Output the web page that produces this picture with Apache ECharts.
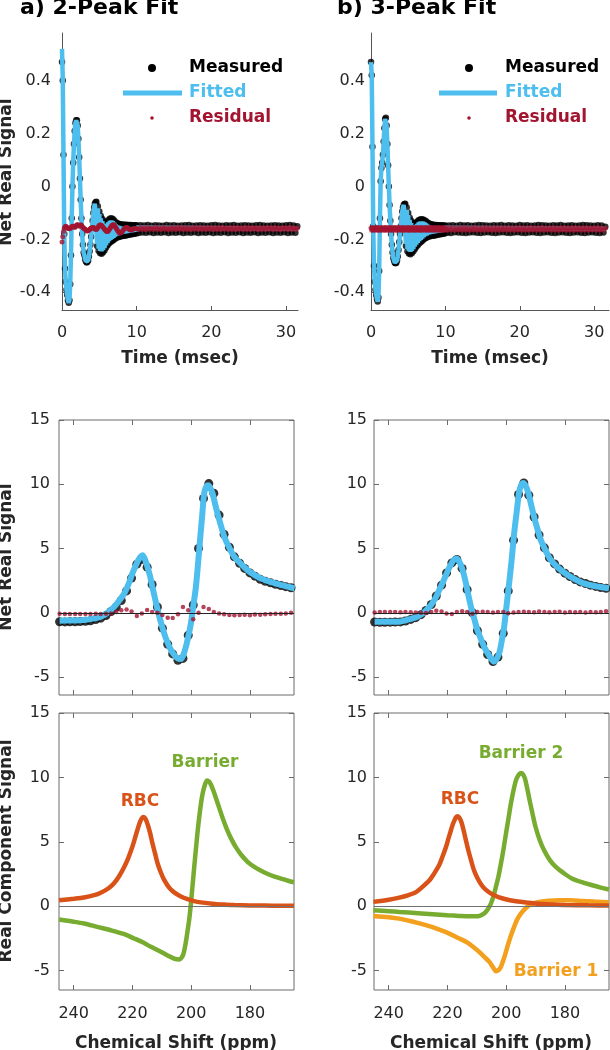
<!DOCTYPE html>
<html>
<head>
<meta charset="utf-8">
<script src="https://cdn.jsdelivr.net/npm/echarts@6.0.0/dist/echarts.min.js"></script>
<style>
  html, body { margin: 0; padding: 0; background: #fff; }
  #chart { width: 610px; height: 1050px; }
</style>
</head>
<body>
<div id="chart"></div>
<script>
// ---------- time domain (msec) ----------
const fidTime = [
  0, 0.1, 0.2, 0.3, 0.4, 0.5, 0.6, 0.7, 0.8, 0.9,
  1, 1.1, 1.2, 1.3, 1.4, 1.5, 1.6, 1.7, 1.8, 1.9,
  2, 2.1, 2.2, 2.3, 2.4, 2.5, 2.6, 2.7, 2.8, 2.9,
  3, 3.1, 3.2, 3.3, 3.4, 3.5, 3.6, 3.7, 3.8, 3.9,
  4, 4.1, 4.2, 4.3, 4.4, 4.5, 4.6, 4.7, 4.8, 4.9,
  5, 5.1, 5.2, 5.3, 5.4, 5.5, 5.6, 5.7, 5.8, 5.9,
  6, 6.1, 6.2, 6.3, 6.4, 6.5, 6.6, 6.7, 6.8, 6.9,
  7, 7.1, 7.2, 7.3, 7.4, 7.5, 7.6, 7.7, 7.8, 7.9,
  8, 8.1, 8.2, 8.3, 8.4, 8.5, 8.6, 8.7, 8.8, 8.9,
  9, 9.1, 9.2, 9.3, 9.4, 9.5, 9.6, 9.7, 9.8, 9.9,
  10,
  10.25, 10.5, 10.75, 11, 11.25, 11.5, 11.75, 12, 12.25, 12.5,
  12.75, 13, 13.25, 13.5, 13.75, 14, 14.25, 14.5, 14.75, 15,
  15.25, 15.5, 15.75, 16, 16.25, 16.5, 16.75, 17, 17.25, 17.5,
  17.75, 18, 18.25, 18.5, 18.75, 19, 19.25, 19.5, 19.75, 20,
  20.25, 20.5, 20.75, 21, 21.25, 21.5, 21.75, 22, 22.25, 22.5,
  22.75, 23, 23.25, 23.5, 23.75, 24, 24.25, 24.5, 24.75, 25,
  25.25, 25.5, 25.75, 26, 26.25, 26.5, 26.75, 27, 27.25, 27.5,
  27.75, 28, 28.25, 28.5, 28.75, 29, 29.25, 29.5, 29.75, 30,
  30.25, 30.5, 30.75, 31, 31.25, 31.5
];
// fitted curve is sampled on the first 101 times plus one end point
const fitEndTime = 31.5;

// a) 2-peak fit
const fidMeasA = [
  0.47, 0.40, 0.12, -0.18, -0.31, -0.36, -0.39, -0.41, -0.43, -0.44,
  -0.43, -0.37, -0.26, -0.12, 0.00, 0.09, 0.16, 0.21, 0.24, 0.25,
  0.25, 0.23, 0.18, 0.11, 0.03, -0.05, -0.12, -0.18, -0.22, -0.25,
  -0.26, -0.275, -0.283, -0.287, -0.285, -0.28, -0.265, -0.245, -0.22, -0.19,
  -0.16, -0.13, -0.10, -0.08, -0.065, -0.06, -0.058,
  -0.225, -0.075, -0.243, -0.095, -0.252, -0.112, -0.254, -0.123, -0.249, -0.132,
  -0.241, -0.136, -0.231, -0.134, -0.222, -0.128, -0.215, -0.122, -0.21, -0.12,
  -0.206, -0.123, -0.202, -0.129, -0.198, -0.135, -0.194, -0.139, -0.192, -0.141,
  -0.19, -0.143, -0.188, -0.144, -0.187, -0.145, -0.186, -0.145, -0.185, -0.145,
  -0.184, -0.146, -0.183, -0.146, -0.182, -0.146, -0.181, -0.147, -0.18, -0.147,
  -0.179, -0.147, -0.178, -0.147,
  -0.176, -0.147, -0.174, -0.148, -0.175, -0.146, -0.173, -0.149, -0.176, -0.147,
  -0.174, -0.148, -0.175, -0.149, -0.173, -0.146, -0.176, -0.148, -0.174, -0.147,
  -0.175, -0.149, -0.173, -0.148, -0.176, -0.147, -0.174, -0.146, -0.175, -0.149,
  -0.173, -0.148, -0.176, -0.147, -0.174, -0.148, -0.175, -0.149, -0.173, -0.147,
  -0.176, -0.146, -0.174, -0.148, -0.175, -0.149, -0.173, -0.147, -0.176, -0.148,
  -0.174, -0.146, -0.175, -0.149, -0.173, -0.148, -0.176, -0.147, -0.174, -0.148,
  -0.175, -0.149, -0.173, -0.147, -0.176, -0.146, -0.174, -0.148, -0.175, -0.149,
  -0.173, -0.148, -0.176, -0.147, -0.174, -0.148, -0.175, -0.149, -0.173, -0.147,
  -0.176, -0.146, -0.174, -0.148, -0.175, -0.15
];
const fidFitA = [
  0.52, 0.41, 0.12, -0.18, -0.31, -0.36, -0.39, -0.41, -0.43, -0.44,
  -0.43, -0.37, -0.26, -0.12, 0.00, 0.09, 0.16, 0.21, 0.24, 0.25,
  0.25, 0.23, 0.18, 0.11, 0.03, -0.05, -0.12, -0.18, -0.22, -0.25,
  -0.26, -0.275, -0.283, -0.287, -0.285, -0.28, -0.265, -0.245, -0.22, -0.19,
  -0.16, -0.13, -0.10, -0.08, -0.065, -0.06, -0.058,
  -0.217, -0.083, -0.235, -0.103, -0.244, -0.12, -0.246, -0.131, -0.241, -0.14,
  -0.233, -0.144, -0.223, -0.142, -0.214, -0.136, -0.207, -0.13, -0.202, -0.128,
  -0.198, -0.131, -0.194, -0.137, -0.19, -0.143, -0.186, -0.147, -0.184, -0.149,
  -0.182, -0.151, -0.18, -0.152, -0.179, -0.153, -0.178, -0.153, -0.177, -0.153,
  -0.176, -0.154, -0.175, -0.154, -0.174, -0.154, -0.173, -0.155, -0.172, -0.155,
  -0.171, -0.155, -0.17, -0.155,
  -0.16
];
const fidResA = [
  -0.21, -0.19, -0.17, -0.158, -0.152, -0.15, -0.152, -0.156, -0.158, -0.16,
  -0.16, -0.158, -0.155, -0.152, -0.15, -0.15, -0.152, -0.155, -0.152, -0.148,
  -0.145, -0.145, -0.147, -0.15, -0.148, -0.145, -0.147, -0.15, -0.155, -0.158,
  -0.16, -0.162, -0.165, -0.167, -0.168, -0.167, -0.165, -0.163, -0.16, -0.158,
  -0.156, -0.155, -0.155, -0.157, -0.16, -0.162, -0.163, -0.16, -0.155, -0.15,
  -0.147, -0.146, -0.146, -0.148, -0.15, -0.154, -0.158, -0.162, -0.165, -0.168,
  -0.17, -0.17, -0.168, -0.164, -0.16, -0.155, -0.15, -0.147, -0.145, -0.145,
  -0.147, -0.151, -0.155, -0.16, -0.165, -0.169, -0.173, -0.175, -0.176, -0.175,
  -0.172, -0.169, -0.165, -0.161, -0.158, -0.156, -0.155, -0.155, -0.157, -0.16,
  -0.162, -0.164, -0.165, -0.165, -0.163, -0.161, -0.16, -0.159, -0.158, -0.159,
  -0.16,
  -0.163, -0.155, -0.162, -0.156, -0.164, -0.155, -0.161, -0.157, -0.163, -0.154,
  -0.162, -0.156, -0.163, -0.155, -0.161, -0.157, -0.164, -0.155, -0.162, -0.156,
  -0.163, -0.154, -0.161, -0.156, -0.163, -0.155, -0.162, -0.157, -0.164, -0.155,
  -0.161, -0.156, -0.163, -0.154, -0.162, -0.157, -0.163, -0.155, -0.161, -0.156,
  -0.164, -0.155, -0.162, -0.156, -0.163, -0.154, -0.161, -0.157, -0.163, -0.155,
  -0.162, -0.156, -0.164, -0.155, -0.161, -0.157, -0.163, -0.154, -0.162, -0.156,
  -0.163, -0.155, -0.161, -0.156, -0.164, -0.155, -0.162, -0.157, -0.163, -0.154,
  -0.161, -0.156, -0.163, -0.155, -0.162, -0.157, -0.164, -0.155, -0.161, -0.156,
  -0.163, -0.154, -0.162, -0.156, -0.163, -0.158
];

// b) 3-peak fit
const fidMeasB = [
  0.47, 0.42, 0.15, -0.15, -0.30, -0.36, -0.39, -0.41, -0.425, -0.435,
  -0.42, -0.32, -0.12, 0.02, 0.07, 0.09, 0.12, 0.17, 0.22, 0.255,
  0.26, 0.23, 0.16, 0.08, 0.00, -0.07, -0.13, -0.18, -0.22, -0.25,
  -0.27, -0.28, -0.288, -0.29, -0.288, -0.28, -0.265, -0.24, -0.21, -0.18,
  -0.15, -0.12, -0.095, -0.08, -0.07, -0.066, -0.065,
  -0.225, -0.08, -0.245, -0.10, -0.253, -0.118, -0.256, -0.13, -0.252, -0.138,
  -0.245, -0.14, -0.236, -0.138, -0.228, -0.133, -0.221, -0.128, -0.215, -0.125,
  -0.21, -0.124, -0.205, -0.125, -0.2, -0.128, -0.196, -0.132, -0.193, -0.136,
  -0.19, -0.14, -0.188, -0.142, -0.187, -0.144, -0.186, -0.145, -0.185, -0.146,
  -0.184, -0.146, -0.183, -0.147, -0.182, -0.147, -0.181, -0.147, -0.18, -0.148,
  -0.179, -0.148, -0.178, -0.148,
  -0.175, -0.148, -0.176, -0.147, -0.173, -0.149, -0.174, -0.146, -0.175, -0.148,
  -0.176, -0.147, -0.174, -0.149, -0.173, -0.148, -0.175, -0.146, -0.176, -0.147,
  -0.174, -0.148, -0.173, -0.149, -0.175, -0.147, -0.176, -0.148, -0.174, -0.146,
  -0.173, -0.149, -0.175, -0.147, -0.176, -0.148, -0.174, -0.149, -0.173, -0.146,
  -0.175, -0.148, -0.176, -0.147, -0.174, -0.149, -0.173, -0.148, -0.175, -0.146,
  -0.176, -0.147, -0.174, -0.148, -0.173, -0.149, -0.175, -0.147, -0.176, -0.148,
  -0.174, -0.146, -0.173, -0.149, -0.175, -0.148, -0.176, -0.147, -0.174, -0.149,
  -0.173, -0.148, -0.175, -0.146, -0.176, -0.147, -0.174, -0.148, -0.173, -0.149,
  -0.175, -0.147, -0.176, -0.148, -0.174, -0.152
];
const fidFitB = [
  0.47, 0.42, 0.15, -0.15, -0.30, -0.36, -0.39, -0.41, -0.425, -0.435,
  -0.42, -0.32, -0.12, 0.02, 0.07, 0.09, 0.12, 0.17, 0.22, 0.255,
  0.26, 0.23, 0.16, 0.08, 0.00, -0.07, -0.13, -0.18, -0.22, -0.25,
  -0.27, -0.28, -0.288, -0.29, -0.288, -0.28, -0.265, -0.24, -0.21, -0.18,
  -0.15, -0.12, -0.095, -0.08, -0.07, -0.066, -0.065,
  -0.217, -0.088, -0.237, -0.108, -0.245, -0.126, -0.248, -0.138, -0.244, -0.146,
  -0.237, -0.148, -0.228, -0.146, -0.22, -0.141, -0.213, -0.136, -0.207, -0.133,
  -0.202, -0.132, -0.197, -0.133, -0.192, -0.136, -0.188, -0.14, -0.185, -0.144,
  -0.182, -0.148, -0.18, -0.15, -0.179, -0.152, -0.178, -0.153, -0.177, -0.154,
  -0.176, -0.154, -0.175, -0.155, -0.174, -0.155, -0.173, -0.155, -0.172, -0.156,
  -0.171, -0.156, -0.17, -0.156,
  -0.16
];
const fidResB = [
  -0.157, -0.166, -0.155, -0.165, -0.157, -0.166, -0.156, -0.164, -0.155, -0.166,
  -0.156, -0.165, -0.157, -0.166, -0.155, -0.164, -0.157, -0.166, -0.156, -0.165,
  -0.155, -0.166, -0.157, -0.164, -0.156, -0.166, -0.155, -0.165, -0.157, -0.166,
  -0.156, -0.164, -0.155, -0.166, -0.157, -0.165, -0.156, -0.166, -0.155, -0.164,
  -0.157, -0.166, -0.156, -0.165, -0.155, -0.166, -0.157, -0.164, -0.156, -0.166,
  -0.155, -0.165, -0.157, -0.166, -0.156, -0.164, -0.155, -0.166, -0.157, -0.165,
  -0.156, -0.166, -0.155, -0.164, -0.157, -0.166, -0.156, -0.165, -0.155, -0.166,
  -0.157, -0.164, -0.156, -0.166, -0.155, -0.165, -0.157, -0.166, -0.156, -0.164,
  -0.155, -0.166, -0.157, -0.165, -0.156, -0.166, -0.155, -0.164, -0.157, -0.166,
  -0.156, -0.165, -0.155, -0.166, -0.157, -0.164, -0.156, -0.166, -0.155, -0.165,
  -0.157,
  -0.166, -0.156, -0.165, -0.155, -0.166, -0.157, -0.164, -0.156, -0.166, -0.155,
  -0.165, -0.157, -0.166, -0.156, -0.164, -0.155, -0.166, -0.157, -0.165, -0.156,
  -0.166, -0.155, -0.164, -0.157, -0.166, -0.156, -0.165, -0.155, -0.166, -0.157,
  -0.164, -0.156, -0.166, -0.155, -0.165, -0.157, -0.166, -0.156, -0.164, -0.155,
  -0.166, -0.157, -0.165, -0.156, -0.166, -0.155, -0.164, -0.157, -0.166, -0.156,
  -0.165, -0.155, -0.166, -0.157, -0.164, -0.156, -0.166, -0.155, -0.165, -0.157,
  -0.166, -0.156, -0.164, -0.155, -0.166, -0.157, -0.165, -0.156, -0.166, -0.155,
  -0.164, -0.157, -0.166, -0.156, -0.165, -0.155, -0.166, -0.157, -0.164, -0.156,
  -0.166, -0.155, -0.165, -0.157, -0.166, -0.158
];

// ---------- spectra (ppm), middle panels ----------
const ppmGrid = [
  244.8, 243.0, 241.3, 239.5, 237.8, 236.0, 234.3, 232.5, 230.8, 229.0,
  227.3, 225.5, 223.8, 222.0, 220.3, 218.5, 216.8, 215.0, 213.3, 211.5,
  209.8, 208.0, 206.3, 204.5, 202.8, 201.0, 199.3, 197.5, 195.8, 194.0,
  192.3, 190.5, 188.8, 187.0, 185.3, 183.5, 181.8, 180.0, 178.3, 176.5,
  174.8, 173.0, 171.3, 169.5, 167.8, 166.0
];
const specMeasA = [
  -0.70, -0.71, -0.70, -0.70, -0.69, -0.67, -0.62, -0.53, -0.42, -0.22,
  0.10, 0.45, 0.95, 1.70, 2.70, 3.78, 4.15, 3.55, 2.20, 0.45,
  -1.20, -2.45, -3.20, -3.70, -3.55, -1.75, 0.60, 5.00, 8.90, 10.05,
  9.30, 7.60, 6.10, 5.10, 4.35, 3.85, 3.45, 3.10, 2.85, 2.60,
  2.45, 2.33, 2.22, 2.12, 2.03, 1.95
];
const specResA = [
  -0.08, -0.10, -0.10, -0.10, -0.10, -0.10, -0.10, -0.08, -0.10, -0.08,
  -0.05, 0.05, 0.20, 0.25, 0.10, -0.25, -0.05, 0.22, 0.05, 0.00,
  -0.18, -0.38, -0.40, -0.12, 0.45, 0.20, -0.50, 0.00, 0.45, 0.30,
  0.05, -0.05, -0.12, -0.18, -0.20, -0.18, -0.15, -0.20, -0.13, -0.15,
  -0.12, -0.10, -0.08, -0.08, -0.05, 0.00
];
const specMeasB = [
  -0.72, -0.74, -0.74, -0.73, -0.72, -0.71, -0.64, -0.52, -0.38, -0.15,
  0.18, 0.64, 1.30, 2.15, 3.10, 3.88, 4.15, 3.45, 1.80, 0.00,
  -1.40, -2.45, -3.25, -3.80, -3.45, -1.60, 1.70, 5.65, 9.20, 10.10,
  9.15, 7.45, 6.05, 5.05, 4.28, 3.80, 3.40, 3.08, 2.82, 2.58,
  2.40, 2.28, 2.15, 2.05, 1.96, 1.90
];
const specResB = [
  0.02, 0.05, 0.05, 0.05, 0.05, 0.03, 0.05, 0.03, 0.02, 0.00,
  -0.02, 0.05, 0.15, 0.10, -0.05, -0.10, 0.05, 0.12, 0.05, -0.08,
  0.05, 0.08, 0.05, 0.02, 0.05, 0.05, -0.03, 0.02, 0.05, 0.08,
  0.05, 0.03, 0.10, 0.05, 0.03, 0.05, 0.08, 0.02, 0.05, 0.03,
  0.05, 0.02, 0.05, 0.03, 0.05, 0.12
];
// fitted curves [ppm, signal]
const specFitA = [
  [244.8, -0.62], [240, -0.6], [236.5, -0.57], [233.5, -0.46], [230.8, -0.31], [228.5, 0.0], [226.2, 0.47],
  [224.5, 0.95], [222.8, 1.5], [221.3, 2.25], [220.0, 3.06], [218.9, 3.65], [218.0, 4.1], [217.3, 4.35],
  [216.6, 4.48], [215.8, 4.2], [214.9, 3.58], [214.0, 2.85], [213.2, 2.0], [212.3, 1.1], [211.4, 0.2],
  [210.3, -0.75], [209.2, -1.6], [208.0, -2.35], [206.9, -2.9], [205.7, -3.3], [204.6, -3.55], [203.5, -3.6],
  [202.7, -3.3], [201.8, -2.64], [201.0, -1.85], [200.1, -0.83], [199.3, 0.5], [198.4, 2.0], [197.6, 4.0],
  [196.9, 5.9], [196.2, 7.7], [195.6, 9.27], [194.9, 9.8], [194.2, 9.92], [193.5, 9.7], [192.7, 9.27],
  [191.9, 8.5], [191.0, 7.7], [189.9, 6.8], [188.7, 5.9], [187.0, 5.05], [185.3, 4.35], [183, 3.8],
  [180.7, 3.3], [178.5, 2.95], [176.2, 2.67], [173.3, 2.42], [170.5, 2.23], [167.5, 2.05], [164.8, 1.9]
];
const specFitB = [
  [244.8, -0.7], [240, -0.7], [236.4, -0.7], [234, -0.58], [231.8, -0.44], [230, -0.27], [228.4, -0.05],
  [227, 0.25], [225.6, 0.6], [224.2, 1.1], [222.8, 1.76], [221.4, 2.45], [220.0, 3.2], [219.1, 3.62],
  [218.3, 3.96], [217.6, 4.15], [216.9, 4.22], [216.2, 4.05], [215.4, 3.7], [214.5, 3.05], [213.7, 2.28],
  [212.9, 1.4], [212.0, 0.47], [210.9, -0.45], [209.8, -1.35], [208.6, -2.05], [207.5, -2.64], [206.3, -3.15],
  [205.2, -3.55], [204.1, -3.8], [203.3, -3.6], [202.4, -3.16], [201.6, -2.3], [200.7, -1.09], [199.9, 0.5],
  [199.0, 2.28], [198.1, 4.2], [197.3, 6.17], [196.4, 7.9], [195.6, 9.4], [194.9, 9.95], [194.2, 10.1],
  [193.3, 9.85], [192.4, 9.27], [191.5, 8.4], [190.5, 7.46], [189.4, 6.55], [188.2, 5.65], [186.5, 4.8],
  [184.8, 4.1], [182.3, 3.5], [179.8, 3.06], [177, 2.65], [174.1, 2.33], [170, 2.08], [165, 1.9]
];

// ---------- fitted components (bottom panels) ----------
const rbcA = [
  [245, 0.46], [240, 0.58], [236.5, 0.68], [233, 0.86], [230.8, 1.05], [228, 1.42], [226.2, 1.8], [224.5, 2.35],
  [222.8, 3.05], [221.5, 3.7], [220.5, 4.3], [219.5, 5.0], [218.8, 5.55], [218, 6.15], [217.4, 6.55], [216.8, 6.83],
  [216.2, 6.92], [215.6, 6.8], [214.9, 6.4], [214, 5.7], [213.2, 4.9], [212.3, 4.1], [211.4, 3.3], [210.3, 2.6],
  [209.2, 2.05], [207.5, 1.45], [205.8, 1.08], [203.5, 0.76], [201.2, 0.55], [199, 0.4], [196.7, 0.3], [192, 0.18],
  [188, 0.12], [185.3, 0.09], [180, 0.06], [175, 0.05], [170, 0.04], [165, 0.03]
];
const barrierA = [
  [245, -1.03], [240, -1.2], [236.5, -1.34], [232, -1.6], [227.4, -1.86], [223, -2.15], [219.4, -2.5],
  [216.5, -2.8], [213.7, -3.15], [211.5, -3.4], [209.2, -3.67], [207.5, -3.88], [205.8, -4.06], [204.8, -4.12],
  [204.0, -4.13], [203.3, -4.0], [202.6, -3.67], [201.9, -2.9], [201.2, -1.86], [200.6, -0.9], [200.1, 0.2],
  [199.5, 1.7], [198.9, 3.2], [198.2, 4.9], [197.6, 6.25], [196.8, 7.75], [196.1, 8.75], [195.3, 9.45],
  [194.6, 9.77], [193.9, 9.68], [193.3, 9.45], [192.4, 8.95], [191.5, 8.35], [190.4, 7.6], [189.3, 6.85],
  [187.8, 5.95], [186.4, 5.25], [184.7, 4.55], [183, 4.0], [180.8, 3.45], [178.5, 3.05], [176.2, 2.75],
  [173.9, 2.5], [171.6, 2.3], [169.4, 2.14], [167, 1.98], [165, 1.86]
];
const rbcB = [
  [245.2, 0.34], [240, 0.5], [236.4, 0.67], [233.5, 0.85], [230.7, 1.1], [228.5, 1.5], [226.2, 2.0], [224.5, 2.55],
  [222.8, 3.2], [221.6, 3.9], [220.5, 4.6], [219.6, 5.3], [218.8, 5.9], [218.2, 6.35], [217.6, 6.67], [217.1, 6.9],
  [216.6, 6.98], [216.0, 6.88], [215.2, 6.5], [214.5, 5.9], [213.7, 5.1], [212.9, 4.35], [212.0, 3.6], [210.9, 2.75],
  [209.8, 2.2], [208.4, 1.65], [206.9, 1.27], [204.7, 0.92], [202.4, 0.68], [199.5, 0.5], [196.7, 0.39],
  [192.5, 0.28], [188.8, 0.2], [184, 0.14], [179.8, 0.1], [172, 0.07], [165, 0.05]
];
const barrier2B = [
  [245.2, -0.31], [240, -0.38], [236.4, -0.44], [230, -0.54], [225.1, -0.62], [220, -0.7], [216, -0.75],
  [212.5, -0.78], [210.3, -0.78], [208.8, -0.72], [207.5, -0.57], [206.3, -0.25], [205.2, 0.2], [204.3, 0.8],
  [203.5, 1.5], [202.6, 2.35], [201.8, 3.3], [200.9, 4.45], [200.1, 5.6], [199.2, 6.85], [198.4, 7.96],
  [197.5, 9.0], [196.7, 9.75], [195.8, 10.18], [195.0, 10.34], [194.3, 10.25], [193.6, 9.9], [192.8, 9.1],
  [192.0, 8.2], [191.0, 7.15], [190.0, 6.15], [188.6, 5.15], [187.1, 4.34], [185.2, 3.6], [183.1, 3.05],
  [180.3, 2.55], [177.5, 2.14], [174, 1.85], [170.7, 1.63], [167.8, 1.45], [165, 1.3]
];
const barrier1B = [
  [245.2, -0.75], [240, -0.85], [236.4, -0.96], [232, -1.18], [227.3, -1.47], [223, -1.8], [219.4, -2.12],
  [216.5, -2.45], [213.7, -2.76], [211.5, -3.1], [209.2, -3.54], [207.5, -3.92], [205.8, -4.3], [204.6, -4.7],
  [203.9, -4.95], [203.5, -5.04], [203.0, -5.0], [202.4, -4.9], [201.8, -4.7], [200.7, -4.0], [199.6, -3.15],
  [198.5, -2.35], [197.3, -1.6], [196.2, -1.0], [195.0, -0.57], [193.6, -0.2], [192.2, 0.08], [190.5, 0.24],
  [188.8, 0.34], [185.5, 0.43], [182, 0.47], [178, 0.46], [174.1, 0.41], [170, 0.36], [165, 0.31]
];

// tick labels
const timeTicks = [0, 10, 20, 30];
const fidTicks = [-0.4, -0.2, 0, 0.2, 0.4];
const ppmTicks = [240, 220, 200, 180];
const sigTicks = [-5, 0, 5, 10, 15];

// ---------- style ----------
const FONT = 'DejaVu Sans';
const TXT = '#262626';
const AX = '#6b6b6b';
const BLUE = '#4DBEEE';
const DARKRED = '#A2142F';
const RBC_C = '#D95319';
const BAR_C = '#77AC30';
const BAR1_C = '#F2A01E';

const chart = echarts.init(document.getElementById('chart'), null, { renderer: 'canvas' });

const boxGrid = { show: true, borderColor: AX, borderWidth: 1, backgroundColor: 'transparent' };
const grids = [
  { left: 62, top: 33, width: 236, height: 277 },
  { left: 371, top: 33, width: 238, height: 277 },
  Object.assign({ left: 59, top: 420, width: 235, height: 275 }, boxGrid),
  Object.assign({ left: 374, top: 420, width: 235, height: 275 }, boxGrid),
  Object.assign({ left: 59, top: 713, width: 235, height: 277 }, boxGrid),
  Object.assign({ left: 374, top: 713, width: 235, height: 277 }, boxGrid)
];

const labelStyle = { fontSize: 16, fontFamily: FONT, color: TXT };

function timeAxis(gi, max) {
  return {
    type: 'value', gridIndex: gi, min: 0, max: max,
    axisLine: { show: true, onZero: false, lineStyle: { color: '#555', width: 1 } },
    axisTick: { show: true, inside: true, length: 4, customValues: timeTicks, lineStyle: { color: '#555' } },
    axisLabel: Object.assign({ customValues: timeTicks, margin: 15 }, labelStyle),
    splitLine: { show: false }
  };
}
function fidAxis(gi, margin) {
  return {
    type: 'value', gridIndex: gi, min: -0.467, max: 0.58,
    axisLine: { show: true, onZero: false, lineStyle: { color: '#555', width: 1 } },
    axisTick: { show: true, inside: true, length: 3, customValues: fidTicks, lineStyle: { color: '#555' } },
    axisLabel: Object.assign({ customValues: fidTicks, margin: margin, formatter: v => String(v) }, labelStyle),
    splitLine: { show: false }
  };
}
function ppmAxis(gi, position, showLabel) {
  return {
    type: 'value', gridIndex: gi, position: position, inverse: true, min: 165, max: 245,
    axisLine: { show: false, onZero: false },
    axisTick: { show: true, inside: true, length: 5, customValues: ppmTicks, lineStyle: { color: AX } },
    axisLabel: Object.assign({ show: showLabel, customValues: ppmTicks, margin: 16 }, labelStyle),
    splitLine: { show: false }
  };
}
function sigAxis(gi, position, showLabel, min, margin) {
  return {
    type: 'value', gridIndex: gi, position: position, min: min, max: 15,
    axisLine: { show: false, onZero: false },
    axisTick: { show: true, inside: true, length: 5, customValues: sigTicks, lineStyle: { color: AX } },
    axisLabel: Object.assign({ show: showLabel, customValues: sigTicks, margin: margin }, labelStyle),
    splitLine: { show: false }
  };
}

const xAxes = [
  timeAxis(0, 31.6), timeAxis(1, 32),
  ppmAxis(2, 'bottom', false), ppmAxis(2, 'top', false),
  ppmAxis(3, 'bottom', false), ppmAxis(3, 'top', false),
  ppmAxis(4, 'bottom', true), ppmAxis(4, 'top', false),
  ppmAxis(5, 'bottom', true), ppmAxis(5, 'top', false)
];
const yAxes = [
  fidAxis(0, 11), fidAxis(1, 6),
  sigAxis(2, 'left', true, -6.4, 9), sigAxis(2, 'right', false, -6.4, 9),
  sigAxis(3, 'left', true, -6.4, 7), sigAxis(3, 'right', false, -6.4, 7),
  sigAxis(4, 'left', true, -6.5, 9), sigAxis(4, 'right', false, -6.5, 9),
  sigAxis(5, 'left', true, -6.5, 7), sigAxis(5, 'right', false, -6.5, 7)
];

function pairs(xs, ys) { return ys.map((y, i) => [xs[i], y]); }
function fitPairs(ys) {
  const pts = pairs(fidTime, ys.slice(0, ys.length - 1));
  pts.push([fitEndTime, ys[ys.length - 1]]);
  return pts;
}
function dots(name, ax, data, size, color, z) {
  return { name: name, type: 'scatter', xAxisIndex: ax, yAxisIndex: ax, data: data,
    symbolSize: size, itemStyle: { color: color }, z: z, silent: true };
}
function curve(name, ax, data, width, color, z, smooth) {
  return { name: name, type: 'line', xAxisIndex: ax, yAxisIndex: ax, data: data,
    showSymbol: false, smooth: smooth, lineStyle: { width: width, color: color }, z: z, silent: true };
}
function zeroLine(color) {
  return { silent: true, symbol: 'none', label: { show: false },
    lineStyle: { color: color, width: 1, type: 'solid' }, data: [{ yAxis: 0 }] };
}

const series = [
  // top panels
  dots('Measured', 0, pairs(fidTime, fidMeasA), 6.5, '#000', 2),
  curve('Fitted', 0, fitPairs(fidFitA), 4.5, BLUE, 3, false),
  dots('Residual', 0, pairs(fidTime, fidResA), 5, DARKRED, 4),
  dots('Measured', 1, pairs(fidTime, fidMeasB), 6.5, '#000', 2),
  curve('Fitted', 1, fitPairs(fidFitB), 4.5, BLUE, 3, false),
  dots('Residual', 1, pairs(fidTime, fidResB), 5, DARKRED, 4),
  // middle panels
  Object.assign(dots('Measured', 2, pairs(ppmGrid, specMeasA), 9, '#000', 2), { markLine: zeroLine('#222') }),
  curve('Fitted', 2, specFitA, 6, BLUE, 3, 0.3),
  dots('Residual', 2, pairs(ppmGrid, specResA), 4.5, DARKRED, 4),
  Object.assign(dots('Measured', 4, pairs(ppmGrid, specMeasB), 9, '#000', 2), { markLine: zeroLine('#222') }),
  curve('Fitted', 4, specFitB, 6, BLUE, 3, 0.3),
  dots('Residual', 4, pairs(ppmGrid, specResB), 4.5, DARKRED, 4),
  // bottom panels
  Object.assign(curve('Barrier', 6, barrierA, 4.5, BAR_C, 3, 0.3), { markLine: zeroLine('#707070') }),
  curve('RBC', 6, rbcA, 4.5, RBC_C, 3, 0.3),
  Object.assign(curve('Barrier 1', 8, barrier1B, 4.5, BAR1_C, 3, 0.3), { markLine: zeroLine('#707070') }),
  curve('Barrier 2', 8, barrier2B, 4.5, BAR_C, 3, 0.3),
  curve('RBC', 8, rbcB, 4.5, RBC_C, 3, 0.3)
];

// ---------- texts and legend glyphs ----------
function txt(text, x, y, font, color, align, rot) {
  return { type: 'text', x: x, y: y, rotation: rot || 0, z: 10, silent: true,
    style: { text: text, font: font, fill: color, align: align || 'center', verticalAlign: 'middle' } };
}
function legendBlock(mx, lx1, lx2, tx) {
  return [
    { type: 'circle', shape: { cx: mx, cy: 68, r: 4 }, style: { fill: '#000' }, z: 10 },
    { type: 'line', shape: { x1: lx1, y1: 93, x2: lx2, y2: 93 }, style: { stroke: BLUE, lineWidth: 5 }, z: 10 },
    { type: 'circle', shape: { cx: mx, cy: 118, r: 1.8 }, style: { fill: DARKRED }, z: 10 },
    txt('Measured', tx, 68, 'bold 17px ' + FONT, '#000', 'left'),
    txt('Fitted', tx, 93, 'bold 17px ' + FONT, BLUE, 'left'),
    txt('Residual', tx, 118, 'bold 17px ' + FONT, DARKRED, 'left')
  ];
}
const NAME_FONT = 'bold 17px ' + FONT;
const graphics = [
  txt('a) 2-Peak Fit', 20, 8, 'bold 22px ' + FONT, '#000', 'left'),
  txt('b) 3-Peak Fit', 337, 8, 'bold 22px ' + FONT, '#000', 'left'),
  ...legendBlock(152, 123, 182, 189),
  ...legendBlock(469, 439, 497, 505),
  txt('Time (msec)', 180, 359, NAME_FONT, TXT),
  txt('Time (msec)', 490, 359, NAME_FONT, TXT),
  txt('Chemical Shift (ppm)', 176, 1044, NAME_FONT, TXT),
  txt('Chemical Shift (ppm)', 491, 1044, NAME_FONT, TXT),
  txt('Net Real Signal', 7, 172, NAME_FONT, TXT, 'center', Math.PI / 2),
  txt('Net Real Signal', 7, 557, NAME_FONT, TXT, 'center', Math.PI / 2),
  txt('Real Component Signal', 7, 851, NAME_FONT, TXT, 'center', Math.PI / 2),
  txt('RBC', 140, 802, 'bold 17px ' + FONT, RBC_C),
  txt('Barrier', 205, 763, 'bold 17px ' + FONT, BAR_C),
  txt('RBC', 460, 800, 'bold 17px ' + FONT, RBC_C),
  txt('Barrier 2', 521, 754, 'bold 17px ' + FONT, BAR_C),
  txt('Barrier 1', 556, 972, 'bold 17px ' + FONT, BAR1_C)
];

chart.setOption({
  animation: false,
  backgroundColor: '#fff',
  grid: grids,
  xAxis: xAxes,
  yAxis: yAxes,
  series: series,
  graphic: graphics
});
</script>
</body>
</html>
